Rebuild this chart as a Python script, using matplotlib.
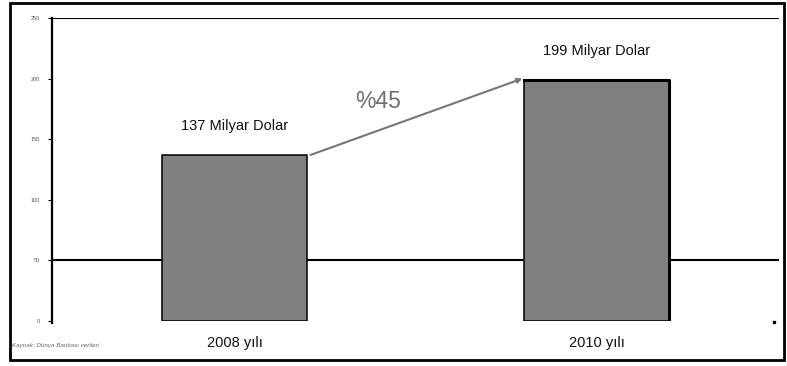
import matplotlib.pyplot as plt
from matplotlib.patches import Rectangle

plt.rcParams['font.family'] = ['Liberation Sans', 'DejaVu Sans']

# Yearly values (billion dollars)
years = ['2008 yılı', '2010 yılı']
values = [137, 199]
value_labels = ['137 Milyar Dolar', '199 Milyar Dolar']
growth_label = '%45'
y_ticks = [0, 50, 100, 150, 200, 250]
grid_levels = [50, 250]
source_note = 'Kaynak: Dünya Bankası verileri'

fig = plt.figure(figsize=(7.87, 3.66), dpi=100)
ax = fig.add_axes([52 / 787, 45 / 366, 727 / 787, 303 / 366])

x = [0, 1]
bar_w = 0.40
ax.bar(x, values, width=bar_w, color='#808080', edgecolor='black',
       linewidth=1.1, zorder=3)
# darker shadow edge on the second bar
ax.plot([1 - bar_w / 2, 1 + bar_w / 2, 1 + bar_w / 2],
        [values[1], values[1], 0], color='black', lw=2.2, zorder=4)

for lvl in grid_levels:
    ax.axhline(lvl, color='black', lw=1.5, zorder=2)

ax.set_xlim(-0.504, 1.504)
ax.set_ylim(0, 250)
ax.set_yticks(y_ticks)
ax.set_yticklabels([str(t) for t in y_ticks], fontsize=4, color='#555555')
ax.set_xticks([])
ax.tick_params(axis='y', length=3, width=0.8, pad=6)
for s in ['top', 'right', 'bottom']:
    ax.spines[s].set_visible(False)
ax.spines['left'].set_linewidth(1.6)
ax.spines['left'].set_bounds(-2, 250)

# value labels above bars
for xi, v, lab in zip(x, values, value_labels):
    ax.text(xi, v + 18, lab, ha='center', va='bottom', fontsize=10.5,
            color='#111111')

# category labels below the axis
for xi, lab in zip(x, years):
    ax.text(xi, -18, lab, ha='center', va='center', fontsize=10.5,
            color='#111111')

# growth arrow between bar tops
ax.annotate('', xy=(1 - bar_w / 2 - 0.005, values[1] + 1),
            xytext=(bar_w / 2 + 0.01, values[0]),
            arrowprops=dict(arrowstyle='-|>', color='#777777', lw=1.5,
                            mutation_scale=7, shrinkA=0, shrinkB=0))
ax.text(0.396, 181, growth_label, ha='center', va='center', fontsize=16.5,
        color='#707070')

ax.plot([1.49], [-1], marker='s', ms=2, color='black', clip_on=False)

fig.text(12 / 787, 1 - 345 / 366, source_note, fontsize=4.5, color='#666666',
         style='italic', va='center')

# outer frame around the chart
fig.patches.append(Rectangle((10 / 787, 6 / 366), 774 / 787, 357 / 366,
                             transform=fig.transFigure, fill=False,
                             edgecolor='black', lw=2))

fig.savefig('out.png', dpi=100)
